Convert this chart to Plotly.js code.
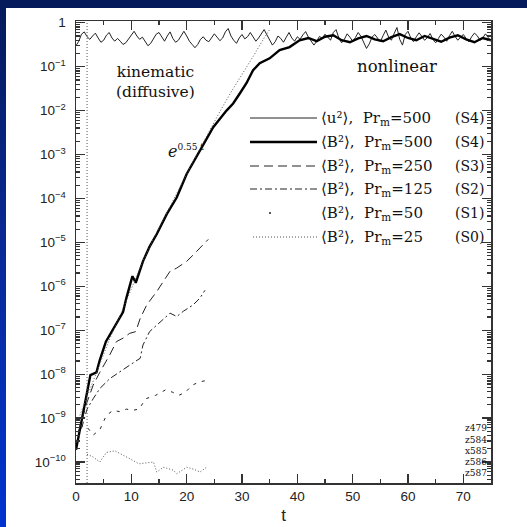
<!DOCTYPE html>
<html><head><meta charset="utf-8">
<script src="https://cdn.plot.ly/plotly-3.0.1.min.js"></script>
<style>
html,body{margin:0;padding:0;width:527px;height:527px;overflow:hidden;background:linear-gradient(to bottom,#041a5a 0%,#0a2a9a 50%,#0034cf 100%);}
#panel{position:absolute;left:6px;top:8px;right:0;bottom:0;background:#fff;}
#chart{position:absolute;left:0;top:0;width:527px;height:527px;}
</style></head><body>
<div id="panel"></div>
<div id="chart"></div>
<script>
// ---- data ----
// <u^2>, Pr_m=500 (S4): t = 0, 0.5, ..., 75
const tU = [];
for (let i = 0; i <= 150; i++) tU.push(i * 0.5);
const u2S4 = [
 0.30,0.38,0.55,0.62,0.48,0.42,0.50,0.58,0.45,0.36,
 0.40,0.52,0.60,0.45,0.38,0.44,0.38,0.32,0.35,0.42,
 0.52,0.64,0.50,0.42,0.47,0.37,0.30,0.34,0.45,0.55,
 0.60,0.48,0.38,0.50,0.62,0.44,0.36,0.40,0.52,0.64,
 0.50,0.38,0.32,0.27,0.32,0.42,0.48,0.40,0.37,0.46,
 0.56,0.47,0.39,0.45,0.62,0.74,0.50,0.40,0.34,0.45,
 0.54,0.43,0.48,0.60,0.47,0.38,0.45,0.57,0.70,0.53,
 0.42,0.31,0.37,0.50,0.44,0.36,0.47,0.60,0.45,0.38,
 0.48,0.42,0.53,0.63,0.47,0.37,0.31,0.38,0.49,0.44,
 0.55,0.47,0.40,0.60,0.70,0.45,0.35,0.42,0.56,0.47,
 0.38,0.46,0.60,0.49,0.35,0.26,0.33,0.47,0.54,0.44,
 0.37,0.51,0.68,0.47,0.40,0.57,0.78,0.42,0.31,0.54,
 0.64,0.45,0.37,0.48,0.59,0.49,0.40,0.46,0.57,0.42,
 0.35,0.44,0.55,0.47,0.38,0.51,0.64,0.49,0.40,0.47,
 0.54,0.44,0.37,0.48,0.58,0.51,0.40,0.45,0.56,0.46,
 0.38];

// <B^2>, Pr_m=500 (S4)
const tB4 = [0,1,2,2.6,3.7,4.3,5.4,6.7,8.5,9.1,10.2,10.8,12.1,13.3,14.6,16.4,18.2,20,22.4,24.8,
 27.2,28.4,29.6,30.8,32,33.2,35,36.8,38.6,40.4,42,43.5,45,46.5,48,49.5,51,52.5,54,55.5,57,58.5,
 60,61.5,63,64.5,66,67.5,69,70.5,72,73.5,75];
const b2S4 = [1.9e-10,8.3e-10,3.3e-9,9.5e-9,1.1e-8,2.1e-8,5.5e-8,1.07e-7,2.6e-7,5.4e-7,1.7e-6,1.2e-6,
 3.7e-6,8e-6,1.55e-5,4.4e-5,1.05e-4,3.6e-4,1.23e-3,4.2e-3,1.0e-2,1.45e-2,2.45e-2,4.2e-2,8.3e-2,0.12,
 0.155,0.24,0.28,0.40,0.45,0.38,0.48,0.52,0.40,0.36,0.44,0.50,0.42,0.38,0.47,0.55,0.45,0.40,0.50,
 0.43,0.37,0.46,0.52,0.42,0.36,0.45,0.40];

// <B^2>, Pr_m=250 (S3)
const tB3 = [0.4,2,3.1,4.3,6.1,7.3,8.5,9.7,10.8,11.6,12.8,13.7,14.6,15.8,17,18.2,20,21.2,22.4,23.9];
const b2S3 = [4.7e-10,2.3e-9,5.6e-9,1.1e-8,2.75e-8,5.5e-8,6.6e-8,8.5e-8,9.3e-8,1.86e-7,3.8e-7,5.4e-7,
 7.6e-7,1.3e-6,2.2e-6,2.6e-6,3.7e-6,5.2e-6,7.4e-6,1.17e-5];

// <B^2>, Pr_m=125 (S2)
const tB2 = [1,2,3.1,4.3,6.1,7.9,9.7,11.6,12.1,13.3,14.6,15.8,17,18.2,19.4,21.2,22.4,23.3];
const b2S2 = [5.8e-10,1.6e-9,2.75e-9,4.7e-9,7.9e-9,1.1e-8,1.6e-8,2.3e-8,4.6e-8,9.3e-8,1.3e-7,1.86e-7,
 2.45e-7,2.05e-7,2.7e-7,3.8e-7,5.4e-7,8.1e-7];

// <B^2>, Pr_m=50 (S1)
const tB1 = [0.7,2,3.1,4.3,5.5,6.7,7.9,9.1,10.2,11.4,12.6,14.4,16.2,17.4,18.6,19.8,21,22.2,23.6];
const b2S1 = [6.8e-10,6.3e-10,4.1e-10,5.4e-10,1.15e-9,1.5e-9,1.4e-9,1.6e-9,1.5e-9,1.6e-9,2.75e-9,
 3.3e-9,4.4e-9,3.9e-9,3.3e-9,3.9e-9,5.6e-9,6.6e-9,7.2e-9];

// <B^2>, Pr_m=25 (S0)
const tB0 = [2,3.1,4.3,5.5,7,8.5,10.2,11.4,14,14.6,15.8,17.6,18.2,20,21.2,22.4,23.6];
const b2S0 = [1.5e-10,1.3e-10,1.0e-10,1.65e-10,1.8e-10,1.4e-10,1.1e-10,9.1e-11,1.0e-10,5.9e-11,
 7.6e-11,6.5e-11,5.4e-11,7.6e-11,6.9e-11,5.9e-11,7.6e-11];

// exponential growth reference e^{0.55 t}
const tFit = [0.5,2,4,6,8,10,12,14,16,18,20,22,24,26,28,30,32,34,35];
const bFit = [1.0e-9,3.0e-9,1.3e-8,6e-8,2.2e-7,9e-7,3.5e-6,1.2e-5,3.8e-5,1.2e-4,3.6e-4,1.1e-3,3.3e-3,
 9.5e-3,2.6e-2,6.5e-2,0.17,0.45,0.7];

const diffusiveEnd = 2;
const xTickVals = [0,10,20,30,40,50,60,70];
const yTickVals = [1,1e-1,1e-2,1e-3,1e-4,1e-5,1e-6,1e-7,1e-8,1e-9,1e-10];
const yTickText = ["1","10<sup>−1</sup>","10<sup>−2</sup>","10<sup>−3</sup>","10<sup>−4</sup>","10<sup>−5</sup>",
 "10<sup>−6</sup>","10<sup>−7</sup>","10<sup>−8</sup>","10<sup>−9</sup>","10<sup>−10</sup>"];
const legendLabels = ["⟨u²⟩,\u00a0 Pr<sub>m</sub>=500","⟨B²⟩,\u00a0 Pr<sub>m</sub>=500","⟨B²⟩,\u00a0 Pr<sub>m</sub>=250",
 "⟨B²⟩,\u00a0 Pr<sub>m</sub>=125","⟨B²⟩,\u00a0 Pr<sub>m</sub>=50","⟨B²⟩,\u00a0 Pr<sub>m</sub>=25"];
const runLabels = ["(S4)","(S4)","(S3)","(S2)","(S1)","(S0)"];
const fileLabels = ["z479","z584","x585","z586","z587"];

// ---- styles ----
const ink = '#111';
const styles = [
 {width:1, dash:'solid', color:'#222'},
 {width:2.4, dash:'solid', color:'#000'},
 {width:1, dash:'9px,5px', color:'#222'},
 {width:1, dash:'7px,3px,2px,3px', color:'#222'},
 {width:1, dash:'3px,6px', color:'#222'},
 {width:1, dash:'1px,2px', color:'#555'}
];
const series = [[tU,u2S4],[tB4,b2S4],[tB3,b2S3],[tB2,b2S2],[tB1,b2S1],[tB0,b2S0]];
const traces = series.map((s,i)=>({
 x:s[0], y:s[1], type:'scatter', mode:'lines', name:legendLabels[i]+' '+runLabels[i],
 line:Object.assign({shape:'linear'}, styles[i]), showlegend:false, hoverinfo:'skip'
}));
traces.push({x:tFit,y:bFit,type:'scatter',mode:'lines',name:'e^{0.55t}',
 line:{width:1,dash:'1px,2px',color:'#555'},showlegend:false,hoverinfo:'skip'});

// ---- custom legend (layout geometry in paper coords) ----
const L = 76, R = 491, T = 21, B = 483;
const px = v => (v - L) / (R - L);
const py = v => (B - v) / (B - T);
const rowsY = [118,142,166,189,213,237];
const shapes = [{type:'line', xref:'x', yref:'paper', x0:diffusiveEnd, x1:diffusiveEnd, y0:0, y1:1,
 line:{color:'#555', width:1, dash:'1px,2px'}}];
const annotations = [];
const serif = 'DejaVu Serif, Liberation Serif, serif';
const lfs = 15;
rowsY.forEach((ry,i)=>{
 if (i === 4) {
  shapes.push({type:'circle', xref:'paper', yref:'paper', x0:px(269), x1:px(271), y0:py(214), y1:py(212),
   fillcolor:'#222', line:{width:0}});
 } else {
  shapes.push({type:'line', xref:'paper', yref:'paper', x0:px(i===5?253:250), x1:px(317), y0:py(ry), y1:py(ry),
   line:styles[i]});
 }
 annotations.push({xref:'paper', yref:'paper', x:px(319), y:py(ry), xanchor:'left', yanchor:'middle',
  text:legendLabels[i], showarrow:false, font:{family:serif, size:lfs, color:ink}});
 annotations.push({xref:'paper', yref:'paper', x:px(486), y:py(ry), xanchor:'right', yanchor:'middle',
  text:runLabels[i], showarrow:false, font:{family:serif, size:14, color:ink}});
});
const note = (x,y,text,size,anchor) => annotations.push({xref:'paper',yref:'paper',x:px(x),y:py(y),
 xanchor:anchor||'center',yanchor:'middle',text:text,showarrow:false,font:{family:serif,size:size,color:ink}});
note(155,82,'kinematic<br>(diffusive)',15.5);
note(397,67,'nonlinear',16.5);
note(166,151,'<i>e</i><sup><span style="font-size:9px">0.55 t</span></sup>',16,'left');
const fileY = [428,440,451,462,473];
fileLabels.forEach((f,i)=>note(463,fileY[i],f,9,'left'));

const axisCommon = {showline:true, linecolor:'#333', linewidth:1.5, mirror:'ticks', ticks:'inside',
 tickcolor:'#333', tickwidth:1.2, showgrid:false, zeroline:false,
 tickfont:{family:'Liberation Sans, Arial, sans-serif', size:13.5, color:'#222'}};

const layout = {
 width:527, height:527, margin:{l:L, r:527-R, t:T, b:527-B},
 paper_bgcolor:'rgba(0,0,0,0)', plot_bgcolor:'#fff',
 xaxis:Object.assign({}, axisCommon, {range:[0,75], tickvals:xTickVals, ticklen:9,
  minor:{dtick:5, ticks:'inside', ticklen:4, tickcolor:'#333', showgrid:false},
  title:{text:'t', standoff:6, font:{family:'Liberation Sans, Arial, sans-serif', size:17, color:'#222'}}}),
 yaxis:Object.assign({}, axisCommon, {type:'log', range:[-10.478, 0.04], tickvals:yTickVals, ticktext:yTickText,
  ticklen:9, ticklabelstandoff:6,
  minor:{dtick:'D1', ticks:'inside', ticklen:4, tickcolor:'#333', showgrid:false}}),
 shapes:shapes, annotations:annotations, showlegend:false
};
Plotly.newPlot('chart', traces, layout, {staticPlot:true, displayModeBar:false});
</script>
</body></html>
